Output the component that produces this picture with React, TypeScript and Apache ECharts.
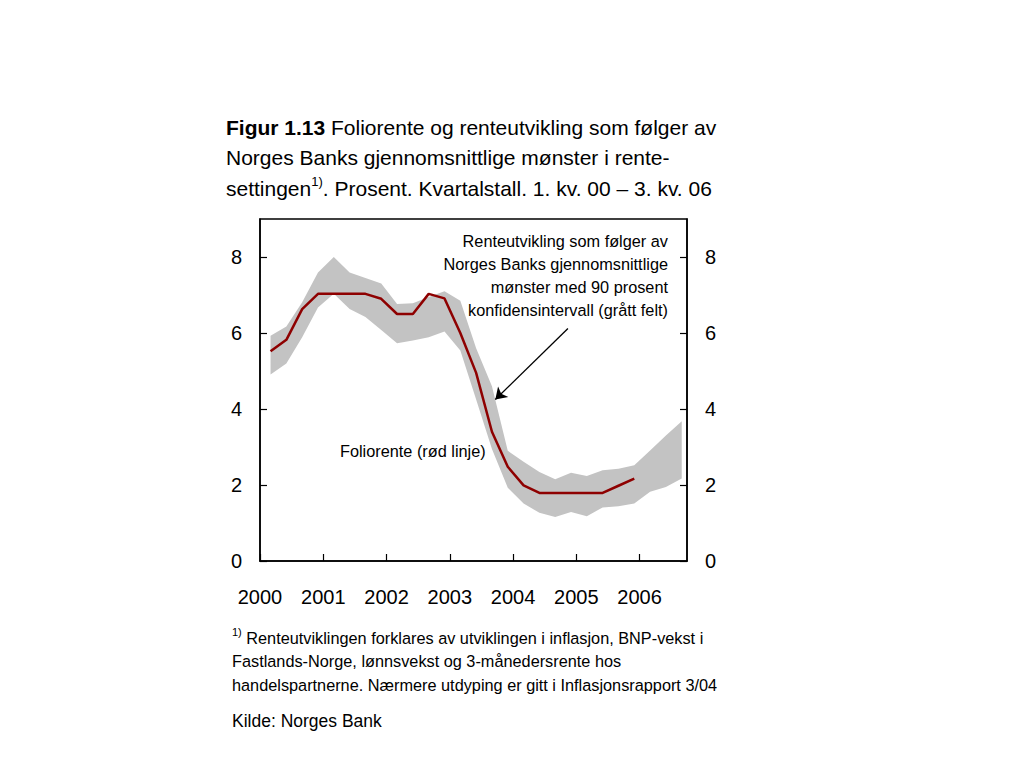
import React, { useEffect, useRef } from "react";
import * as echarts from "echarts";

// Quarterly observations, 1. kv. 2000 – 3. kv. 2006
const quarters = [
  "2000K1", "2000K2", "2000K3", "2000K4",
  "2001K1", "2001K2", "2001K3", "2001K4",
  "2002K1", "2002K2", "2002K3", "2002K4",
  "2003K1", "2003K2", "2003K3", "2003K4",
  "2004K1", "2004K2", "2004K3", "2004K4",
  "2005K1", "2005K2", "2005K3", "2005K4",
  "2006K1", "2006K2", "2006K3",
];

// Foliorente (red line), 1. kv. 2000 – 4. kv. 2005
const foliorente = [
  5.52, 5.82, 6.63, 7.03, 7.03, 7.03, 7.03, 6.9,
  6.5, 6.5, 7.03, 6.91, 6.0, 4.95, 3.4, 2.48,
  1.99, 1.79, 1.79, 1.79, 1.79, 1.79, 1.98, 2.17,
];

// 90 % confidence band, lower and upper bounds
const bandLower = [
  4.91, 5.2, 5.89, 6.67, 7.03, 6.63, 6.42, 6.08,
  5.73, 5.8, 5.89, 6.04, 5.54, 4.25, 2.95, 1.93,
  1.51, 1.27, 1.16, 1.29, 1.18, 1.41, 1.44, 1.51,
  1.82, 1.95, 2.17,
];
const bandUpper = [
  5.93, 6.17, 6.81, 7.59, 8.0, 7.59, 7.45, 7.3,
  6.76, 6.78, 6.95, 7.1, 6.85, 5.6, 4.6, 2.9,
  2.61, 2.34, 2.15, 2.32, 2.24, 2.39, 2.43, 2.52,
  2.91, 3.3, 3.68,
];

const yearTicks = [2000, 2001, 2002, 2003, 2004, 2005, 2006];
const yTicks = [0, 2, 4, 6, 8];

// Arrow annotation (data coordinates)
const arrowFrom = [2004.868, 6.12];
const arrowTo = [2003.72, 4.25];

const FONT = "'Liberation Sans', Arial, Helvetica, sans-serif";

// quarter label -> position in the middle month of the quarter
const qPos = (q: string) => {
  const y = parseInt(q.slice(0, 4), 10);
  const k = parseInt(q.slice(5), 10);
  return y + (k * 3 - 1) / 12;
};

export default function App() {
  const ref = useRef<HTMLDivElement>(null);

  useEffect(() => {
    if (!ref.current) return;
    const chart = echarts.init(ref.current, undefined, { renderer: "svg" });

    const xs = quarters.map(qPos);
    const upperPts = xs.map((x, i) => [x, bandUpper[i]]);
    const lowerPts = xs.map((x, i) => [x, bandLower[i]]);
    const redData = foliorente.map((v, i) => [xs[i], v]);

    const axisLabel = { color: "#000", fontSize: 20, fontFamily: FONT };
    const yAxisBase = (position: string) => ({
      type: "value",
      position,
      min: 0,
      max: 9,
      interval: 2,
      splitLine: { show: false },
      axisLine: { show: true, lineStyle: { color: "#000", width: 1.5 } },
      axisTick: { show: true, inside: true, length: 7, lineStyle: { color: "#000", width: 1.2 } },
      axisLabel: {
        ...axisLabel,
        margin: 18,
        showMaxLabel: false,
        formatter: (v: number) => (yTicks.includes(v) ? String(v) : ""),
      },
    });

    chart.setOption({
      animation: false,
      grid: {
        left: 260,
        right: 337,
        top: 219,
        bottom: 207,
        show: true,
        borderColor: "#000",
        borderWidth: 1.5,
        backgroundColor: "transparent",
      },
      xAxis: {
        type: "value",
        min: 2000,
        max: 2006.75,
        interval: 1,
        splitLine: { show: false },
        axisLine: { show: true, lineStyle: { color: "#000", width: 1.5 } },
        axisTick: { show: true, inside: true, length: 7, lineStyle: { color: "#000", width: 1.2 } },
        axisLabel: {
          ...axisLabel,
          margin: 26,
          showMaxLabel: false,
          formatter: (v: number) => (yearTicks.includes(v) ? String(v) : ""),
        },
      },
      yAxis: [yAxisBase("left"), yAxisBase("right")],
      series: [
        {
          name: "band",
          type: "custom",
          silent: true,
          data: [[xs[0], bandLower[0]]],
          z: 1,
          renderItem: (_params: any, api: any) => {
            const pts = upperPts
              .concat(lowerPts.slice().reverse())
              .map((p) => api.coord(p));
            return {
              type: "polygon",
              shape: { points: pts },
              style: { fill: "#c3c3c3", stroke: "none" },
            };
          },
        },
        {
          name: "Foliorente",
          type: "line",
          data: redData,
          symbol: "none",
          lineStyle: { color: "#8e0000", width: 2.5 },
          z: 5,
          markLine: {
            silent: true,
            symbol: ["none", "arrow"],
            symbolSize: 11,
            label: { show: false },
            lineStyle: { color: "#000", width: 1.3, type: "solid" },
            data: [[{ coord: arrowFrom }, { coord: arrowTo }]],
          },
        },
      ],
      graphic: [
        {
          type: "text",
          x: 226,
          y: 127,
          style: {
            text: "{b|Figur 1.13} Foliorente og renteutvikling som følger av",
            fontSize: 21,
            fontFamily: FONT,
            fill: "#000",
            verticalAlign: "middle",
            rich: { b: { fontSize: 21, fontWeight: "bold", fontFamily: FONT, fill: "#000" } },
          },
        },
        {
          type: "text",
          x: 226,
          y: 157,
          style: {
            text: "Norges Banks gjennomsnittlige mønster i rente-",
            fontSize: 21,
            fontFamily: FONT,
            fill: "#000",
            verticalAlign: "middle",
          },
        },
        {
          type: "text",
          x: 226,
          y: 187,
          style: {
            text: "{n|settingen}{s|1)}{n|. Prosent. Kvartalstall. 1. kv. 00 – 3. kv. 06}",
            fontSize: 21,
            fontFamily: FONT,
            fill: "#000",
            verticalAlign: "middle",
            rich: {
              n: { fontSize: 21, fontFamily: FONT, fill: "#000", lineHeight: 24, verticalAlign: "bottom" },
              s: { fontSize: 13, fontFamily: FONT, fill: "#000", lineHeight: 24, verticalAlign: "top" },
            },
          },
        },
        {
          type: "text",
          x: 668,
          y: 241 - 11.5,
          style: {
            text:
              "Renteutvikling som følger av\nNorges Banks gjennomsnittlige\nmønster med 90 prosent\nkonfidensintervall (grått felt)",
            fontSize: 16.3,
            lineHeight: 23,
            fontFamily: FONT,
            fill: "#000",
            align: "right",
            verticalAlign: "top",
          },
        },
        {
          type: "text",
          x: 340,
          y: 451,
          style: {
            text: "Foliorente (rød linje)",
            fontSize: 16.3,
            fontFamily: FONT,
            fill: "#000",
            verticalAlign: "middle",
          },
        },
        {
          type: "text",
          x: 232,
          y: 636,
          style: {
            text: "{s|1)} {n|Renteutviklingen forklares av utviklingen i inflasjon, BNP-vekst i}",
            fontSize: 16.3,
            fontFamily: FONT,
            fill: "#000",
            verticalAlign: "middle",
            rich: {
              n: { fontSize: 16.3, fontFamily: FONT, fill: "#000", lineHeight: 20, verticalAlign: "bottom" },
              s: { fontSize: 11, fontFamily: FONT, fill: "#000", lineHeight: 20, verticalAlign: "top" },
            },
          },
        },
        {
          type: "text",
          x: 232,
          y: 661,
          style: {
            text: "Fastlands-Norge, lønnsvekst og 3-månedersrente hos",
            fontSize: 16.3,
            fontFamily: FONT,
            fill: "#000",
            verticalAlign: "middle",
          },
        },
        {
          type: "text",
          x: 232,
          y: 685,
          style: {
            text: "handelspartnerne. Nærmere utdyping er gitt i Inflasjonsrapport 3/04",
            fontSize: 16.3,
            fontFamily: FONT,
            fill: "#000",
            verticalAlign: "middle",
          },
        },
        {
          type: "text",
          x: 232,
          y: 721,
          style: {
            text: "Kilde: Norges Bank",
            fontSize: 17.5,
            fontFamily: FONT,
            fill: "#000",
            verticalAlign: "middle",
          },
        },
      ],
    });

    return () => chart.dispose();
  }, []);

  return (
    <div
      ref={ref}
      style={{ position: "absolute", left: 0, top: 0, width: 1024, height: 768, background: "#fff" }}
    />
  );
}
